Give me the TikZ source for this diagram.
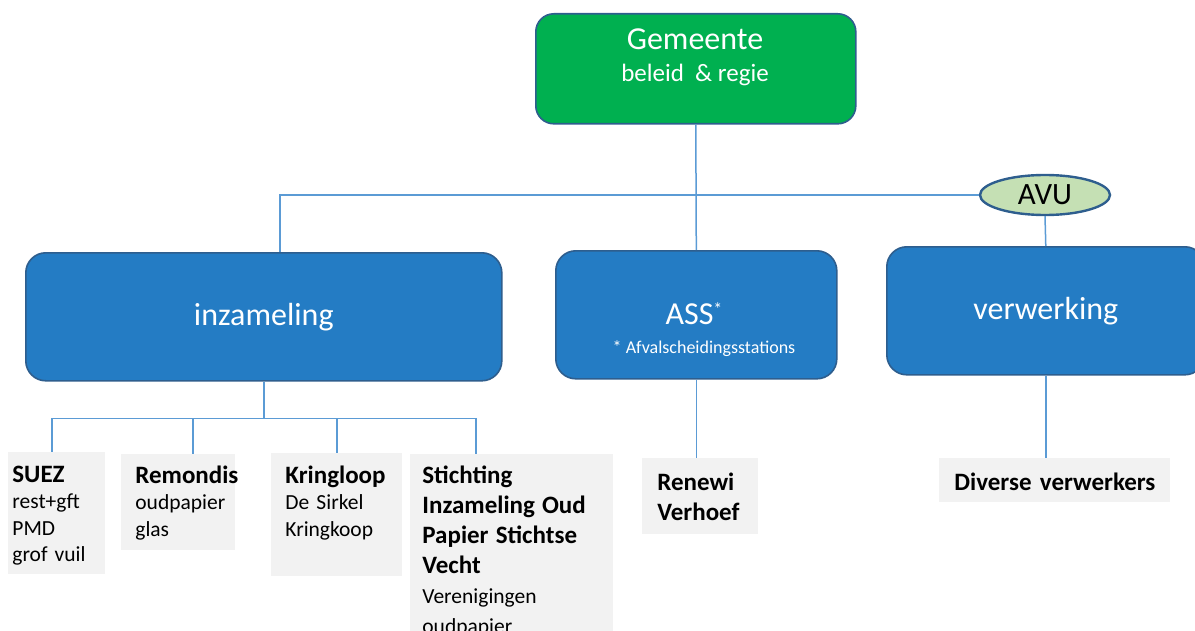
\documentclass[tikz,border=0pt]{standalone}
\usepackage{fontspec}
\setmainfont{Carlito}
\usetikzlibrary{shapes.geometric}

\definecolor{boxblue}{RGB}{36,124,196}
\definecolor{boxedge}{RGB}{46,94,142}
\definecolor{leafgrey}{RGB}{242,242,242}
\definecolor{linkblue}{RGB}{91,155,213}
\definecolor{gemgreen}{RGB}{0,176,80}
\definecolor{avugreen}{RGB}{197,224,180}

\newcommand{\leafhead}[1]{{\bfseries\fontsize{12.5}{15}\selectfont #1}}

\tikzset{
  mainbox/.style={draw=boxedge, line width=0.8pt, rounded corners=10pt, anchor=north west,
    text=white, font=\fontsize{16}{19}\selectfont},
  leafbox/.style={fill=leafgrey, anchor=north west, inner sep=0pt},
  leaftext/.style={anchor=base west, align=left, inner sep=0pt, font=\fontsize{10.75}{13.25}\selectfont},
  conn/.style={draw=linkblue, line width=0.75pt},
}

\begin{document}
\begin{tikzpicture}[x=0.5pt,y=-0.5pt]
  \useasboundingbox (0,0) rectangle (1195,631);

  % gemeente on top
  \node[mainbox, fill=gemgreen, rounded corners=9pt, minimum width=160pt, minimum height=55pt] (gemeente) at (535,13) {};
  \node[white, font=\fontsize{16}{19}\selectfont, anchor=base] (gemeente title) at (695,50) {Gemeente};
  \node[white, font=\fontsize{12.5}{15}\selectfont, anchor=base] (gemeente sub) at (695,82) {beleid\ \ \& regie};

  % the avu ellipse
  \node[ellipse, draw=boxedge, line width=1.2pt, fill=avugreen, minimum width=65pt, minimum height=20pt,
    inner sep=0pt, font=\fontsize{15.5}{18}\selectfont] (avu) at (1045,195) {AVU};

  % the three blue boxes
  \node[mainbox, fill=boxblue, minimum width=238pt, minimum height=64pt] (inzameling) at (25,252) {inzameling};
  \node[mainbox, fill=boxblue, minimum width=140.5pt, minimum height=64pt] (ass) at (555,250) {};
  \node[white, font=\fontsize{16}{19}\selectfont, anchor=base] (ass title) at (694,324)
    {ASS\raisebox{4.5pt}{\fontsize{9}{9}\selectfont *}};
  \node[white, font=\fontsize{9}{11}\selectfont, anchor=base] (ass note) at (704,353) {* Afvalscheidingsstations};
  \node[mainbox, fill=boxblue, minimum width=159pt, minimum height=64pt] (verwerking) at (886,246) {verwerking};

  % grey leaves
  \node[leafbox, minimum width=48.5pt, minimum height=61pt] (suez) at (8,452) {};
  \node[leaftext, text width=48pt] (suez text) at (12,482) {\leafhead{SUEZ}\\ rest+gft\\ PMD\\ grof vuil};
  \node[leafbox, minimum width=57pt, minimum height=48pt] (remondis) at (121,454) {};
  \node[leaftext, text width=52pt] (remondis text) at (135,483) {\leafhead{Remondis}\\ oudpapier\\ glas};
  \node[leafbox, minimum width=65.5pt, minimum height=61.5pt] (kringloop) at (271,453) {};
  \node[leaftext, text width=60pt] (kringloop text) at (285,483) {\leafhead{Kringloop}\\ De Sirkel\\ Kringkoop};
  \node[leafbox, minimum width=101.5pt, minimum height=95pt] (stichting) at (410,454) {};
  \node[leaftext, text width=95pt, font=\fontsize{10.75}{15}\selectfont] (stichting text) at (422,483)
    {\leafhead{Stichting}\\ \leafhead{Inzameling Oud}\\ \leafhead{Papier Stichtse}\\ \leafhead{Vecht}\\ Verenigingen\\ oudpapier};
  \node[leafbox, minimum width=58pt, minimum height=38pt] (renewi) at (642,458) {};
  \node[leaftext, text width=52pt, font=\bfseries\fontsize{12.5}{15}\selectfont] (renewi text) at (657,490) {Renewi\\ Verhoef};
  \node[leafbox, minimum width=115.5pt, minimum height=22pt] (diverse) at (939,458) {};
  \node[leaftext, text width=110pt, font=\bfseries\fontsize{12.5}{15}\selectfont] (diverse text) at (954,490) {Diverse verwerkers};

  % connectors
  \draw[conn] (gemeente.south) -- (ass.north);
  \draw[conn] (avu.west) -| ([xshift=8pt]inzameling.north);
  \draw[conn] (avu.south) -- (verwerking.north);
  \foreach \leaf/\dx in {suez/22pt, remondis/36pt, kringloop/33pt, stichting/33pt}
    \draw[conn] (inzameling.south) -- ++(0,37) -| ([xshift=\dx]\leaf.north west);
  \draw[conn] (ass.south) -- (ass.south |- renewi.north);
  \draw[conn] (verwerking.south) -- (verwerking.south |- diverse.north);
\end{tikzpicture}
\end{document}
